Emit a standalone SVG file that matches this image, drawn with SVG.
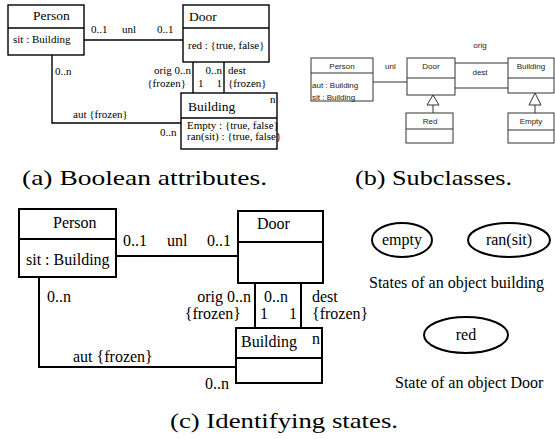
<svg xmlns="http://www.w3.org/2000/svg" width="555" height="439" viewBox="0 0 555 439">
<style>
.a{fill:none;stroke:#000;stroke-width:1.4}
.b{fill:none;stroke:#333;stroke-width:1}
.c{fill:none;stroke:#000;stroke-width:2}
.sa{font-family:"Liberation Serif","Times New Roman",serif;font-size:11px;fill:#000}
.sn{font-family:"Liberation Serif","Times New Roman",serif;font-size:13.5px;fill:#000}
.sb{font-family:"Liberation Sans",Arial,sans-serif;font-size:8px;fill:#222}
.sc{font-family:"Liberation Serif","Times New Roman",serif;font-size:16px;fill:#000}
.cap{font-family:"Liberation Serif","Times New Roman",serif;font-size:21px;fill:#000}
.m{text-anchor:middle}
.e{text-anchor:end}
</style>
<rect width="555" height="439" fill="#fff"/>

<!-- Panel (a) -->
<g id="a-connectors">
<line class="a" x1="84" y1="40" x2="183" y2="40"/>
<polyline class="a" points="52,55 52,123 181,123"/>
<line class="a" x1="193" y1="62" x2="193" y2="93"/>
<line class="a" x1="224" y1="62" x2="224" y2="93"/>
<text class="sa" x="91" y="33">0..1</text>
<text class="sa" x="122" y="33">unl</text>
<text class="sa" x="157" y="33">0..1</text>
<text class="sa" x="55" y="75">0..n</text>
<text class="sa e" x="191" y="74">orig  0..n</text>
<text class="sa e" x="186" y="87">{frozen}</text>
<text class="sa" x="198" y="87">1</text>
<text class="sa e" x="222" y="74">0..n</text>
<text class="sa e" x="222" y="87">1</text>
<text class="sa" x="228" y="74">dest</text>
<text class="sa" x="228" y="87">{frozen}</text>
<text class="sa" x="73" y="118">aut {frozen}</text>
<text class="sa" x="160" y="136">0..n</text>
</g>
<g id="a-person">
<rect class="a" x="8" y="5" width="76" height="50"/>
<line class="a" x1="8" y1="28" x2="84" y2="28"/>
<text class="sn" x="33" y="20">Person</text>
<text class="sa" x="13" y="43">sit : Building</text>
</g>
<g id="a-door">
<rect class="a" x="183" y="5" width="86" height="57"/>
<line class="a" x1="183" y1="28" x2="269" y2="28"/>
<text class="sn" x="189" y="21">Door</text>
<text class="sa" x="188" y="49">red : {true, false}</text>
</g>
<g id="a-building">
<rect class="a" x="181" y="93" width="96" height="56"/>
<line class="a" x1="181" y1="118" x2="277" y2="118"/>
<text class="sn" x="188" y="111">Building</text>
<text class="sa" x="270" y="103">n</text>
<text class="sa" x="187" y="129">Empty : {true, false}</text>
<text class="sa" x="187" y="140">ran(sit) : {true, false}</text>
</g>

<!-- Panel (b) -->
<g id="b-connectors">
<line class="b" x1="373" y1="82" x2="407" y2="82" stroke-width="1.5"/>
<line class="b" x1="455" y1="63" x2="508" y2="63"/>
<line class="b" x1="455" y1="88" x2="508" y2="88"/>
<polygon class="b" points="433,95 427,105 439,105" fill="#fff"/>
<line class="b" x1="433" y1="105" x2="433" y2="113"/>
<polygon class="b" points="535,93 529,105 541,105" fill="#fff"/>
<line class="b" x1="535" y1="105" x2="535" y2="113"/>
<text class="sb" x="385" y="69">unl</text>
<text class="sb m" x="480" y="48">orig</text>
<text class="sb m" x="480" y="75">dest</text>
</g>
<g id="b-person">
<rect class="b" x="311" y="58" width="62" height="43"/>
<line class="b" x1="311" y1="73" x2="373" y2="73"/>
<text class="sb m" x="342" y="69">Person</text>
<text class="sb" x="312" y="88">aut : Building</text>
<text class="sb" x="312" y="100">sit : Building</text>
</g>
<g id="b-door">
<rect class="b" x="407" y="58" width="48" height="37"/>
<line class="b" x1="407" y1="78" x2="455" y2="78"/>
<text class="sb m" x="431" y="69">Door</text>
</g>
<g id="b-building">
<rect class="b" x="508" y="58" width="46" height="35"/>
<line class="b" x1="508" y1="78" x2="554" y2="78"/>
<text class="sb m" x="531" y="69">Building</text>
</g>
<g id="b-red">
<rect class="b" x="406" y="113" width="47" height="30"/>
<line class="b" x1="406" y1="129" x2="453" y2="129"/>
<text class="sb m" x="430" y="124">Red</text>
</g>
<g id="b-empty">
<rect class="b" x="508" y="113" width="46" height="30"/>
<line class="b" x1="508" y1="130" x2="554" y2="130"/>
<text class="sb m" x="531" y="124">Empty</text>
</g>

<!-- Captions (a), (b) -->
<text class="cap" x="22" y="185" textLength="245" lengthAdjust="spacingAndGlyphs">(a) Boolean attributes.</text>
<text class="cap" x="355" y="185" textLength="157" lengthAdjust="spacingAndGlyphs">(b) Subclasses.</text>

<!-- Panel (c) -->
<g id="c-connectors">
<line class="c" x1="116" y1="256" x2="238" y2="256"/>
<polyline class="c" points="39,277 39,367 236,367"/>
<line class="c" x1="255" y1="283" x2="255" y2="328"/>
<line class="c" x1="301" y1="283" x2="301" y2="328"/>
<text class="sc" x="123" y="246">0..1</text>
<text class="sc" x="167" y="246">unl</text>
<text class="sc" x="207" y="246">0..1</text>
<text class="sc" x="47" y="302">0..n</text>
<text class="sc e" x="251" y="302">orig  0..n</text>
<text class="sc e" x="241" y="319">{frozen}</text>
<text class="sc" x="260" y="319">1</text>
<text class="sc e" x="288" y="302">0..n</text>
<text class="sc e" x="297" y="319">1</text>
<text class="sc" x="312" y="302">dest</text>
<text class="sc" x="312" y="319">{frozen}</text>
<text class="sc" x="73" y="362">aut {frozen}</text>
<text class="sc" x="205" y="389">0..n</text>
</g>
<g id="c-person">
<rect class="c" x="19" y="209" width="97" height="68"/>
<line class="c" x1="19" y1="239" x2="116" y2="239"/>
<text class="sc" x="53" y="228">Person</text>
<text class="sc" x="26" y="265">sit : Building</text>
</g>
<g id="c-door">
<rect class="c" x="238" y="211" width="85" height="72"/>
<line class="c" x1="238" y1="242" x2="323" y2="242"/>
<text class="sc" x="257" y="229">Door</text>
</g>
<g id="c-building">
<rect class="c" x="236" y="328" width="86" height="55"/>
<line class="c" x1="236" y1="358" x2="322" y2="358"/>
<text class="sc" x="241" y="347">Building</text>
<text class="sc" x="312" y="344">n</text>
</g>
<g id="c-state-empty">
<ellipse class="c" cx="402" cy="240" rx="30" ry="17"/>
<text class="sc m" x="402" y="245">empty</text>
</g>
<g id="c-state-ransit">
<ellipse class="c" cx="509" cy="240" rx="41" ry="17"/>
<text class="sc m" x="509" y="245">ran(sit)</text>
</g>
<text class="sc" x="369" y="288">States of an object building</text>
<g id="c-state-red">
<ellipse class="c" cx="466" cy="335" rx="42" ry="18"/>
<text class="sc m" x="466" y="340">red</text>
</g>
<text class="sc" x="395" y="388">State of an object Door</text>

<text class="cap" x="170" y="428" textLength="228" lengthAdjust="spacingAndGlyphs">(c) Identifying states.</text>
</svg>
